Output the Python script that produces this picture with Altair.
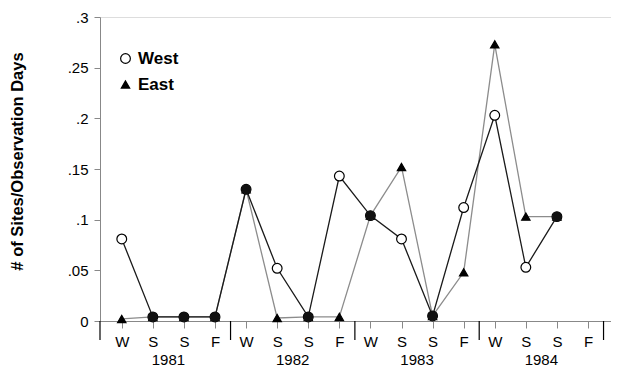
import altair as alt
import pandas as pd

seasons = ["W", "S", "S", "F"] * 4
years = ["1981", "1982", "1983", "1984"]
west = [0.081, 0.004, 0.004, 0.004, 0.130, 0.052, 0.004, 0.143,
        0.104, 0.081, 0.005, 0.112, 0.203, 0.053, 0.103, None]
east = [0.002, 0.004, 0.004, 0.004, 0.130, 0.003, 0.004, 0.004,
        0.104, 0.152, 0.005, 0.048, 0.273, 0.103, 0.103, None]

per_year = 4
rows = []
for name, vals in (("East", east), ("West", west)):
    for i, v in enumerate(vals):
        if v is None:
            continue
        rows.append({"idx": i, "series": name, "value": v,
                     "both": west[i] is not None and west[i] == east[i]})
df = pd.DataFrame(rows)

sep_df = pd.DataFrame({"idx": [(k + 1) * per_year - 0.5 for k in range(len(years))]})
year_df = pd.DataFrame({"year": years,
                        "idx": [k * per_year + (per_year - 1) / 2 for k in range(len(years))]})

W, H = 511, 304
FONT = "Liberation Sans"

label_arr = "[" + ",".join("'%s'" % s for s in seasons) + "]"
x_scale = alt.Scale(domain=[-0.7, 15.74], nice=False, zero=False)

x_enc = alt.X("idx:Q", scale=x_scale,
              axis=alt.Axis(values=list(range(len(seasons))),
                            labelExpr=label_arr + "[datum.value]",
                            labelOverlap=False, labelFlush=False,
                            tickSize=7, labelPadding=6, labelFontSize=15,
                            grid=False, title=None))
y_enc = alt.Y("value:Q",
              scale=alt.Scale(domain=[0, 0.3], nice=False),
              axis=alt.Axis(values=[0, 0.05, 0.1, 0.15, 0.2, 0.25, 0.3],
                            labelExpr="datum.value == 0 ? '0' : substring(format(datum.value, '.2~f'), 1)",
                            labelOverlap=False, labelFlush=False,
                            tickSize=6, labelPadding=6, labelFontSize=15,
                            grid=False,
                            title="# of Sites/Observation Days",
                            titleFontSize=16.5, titleFontWeight="bold",
                            titleAngle=270, titleAlign="center", titleBaseline="middle",
                            titleX=-83, titleY=144))

base = alt.Chart(df)

line_e = base.mark_line(color="#8c8c8c", strokeWidth=1.3).encode(
    x=x_enc, y=y_enc).transform_filter("datum.series == 'East'")
line_w = base.mark_line(color="#1a1a1a", strokeWidth=1.3).encode(
    x=x_enc, y=y_enc).transform_filter("datum.series == 'West'")

seps = alt.Chart(sep_df).mark_rule(color="black", strokeWidth=1.2).encode(
    x=x_enc, y=alt.value(H), y2=alt.value(H + 19))
yext = alt.Chart(sep_df.head(1)).mark_rule(color="black", strokeWidth=1.2).encode(
    x=alt.value(0), y=alt.value(H), y2=alt.value(H + 19))

dom = ["West", "East"]
pts = base.mark_point(filled=False, stroke="black", strokeWidth=1.2, opacity=1).encode(
    x=x_enc, y=y_enc,
    shape=alt.Shape("series:N", scale=alt.Scale(domain=dom, range=["circle", "triangle-up"]),
                    legend=alt.Legend(title=None, orient="none", legendX=17, legendY=33,
                                      labelFontSize=17, labelFontWeight="bold",
                                      labelFont=FONT, labelColor="black",
                                      rowPadding=8, labelOffset=4,
                                      symbolStrokeWidth=1.2, symbolStrokeColor="black")),
    fill=alt.Fill("series:N", scale=alt.Scale(domain=dom, range=["white", "black"])),
    size=alt.Size("series:N", scale=alt.Scale(domain=dom, range=[95, 70])),
)

both = base.mark_point(shape="circle", filled=True, size=95, color="#111111", opacity=1).encode(
    x=x_enc, y=y_enc).transform_filter("datum.both && datum.series == 'West'")

yrs = alt.Chart(year_df).mark_text(fontSize=15, font=FONT, color="black",
                                   baseline="bottom").encode(
    x=x_enc, y=alt.value(H + 47), text="year:N")

chart = alt.layer(line_e, line_w, seps, yext, pts, both, yrs).properties(
    width=W, height=H,
    autosize=alt.AutoSizeParams(type="none"),
    padding={"left": 92, "top": 9, "right": 0, "bottom": 48},
).configure_view(stroke=None).configure_axis(
    domainColor="black", tickColor="black", labelColor="black", titleColor="black",
    labelFont=FONT, titleFont=FONT, domainWidth=1.2, tickWidth=1.2,
).configure(background="white")

chart.save("out.html", embed_options={"renderer": "svg", "actions": False})
